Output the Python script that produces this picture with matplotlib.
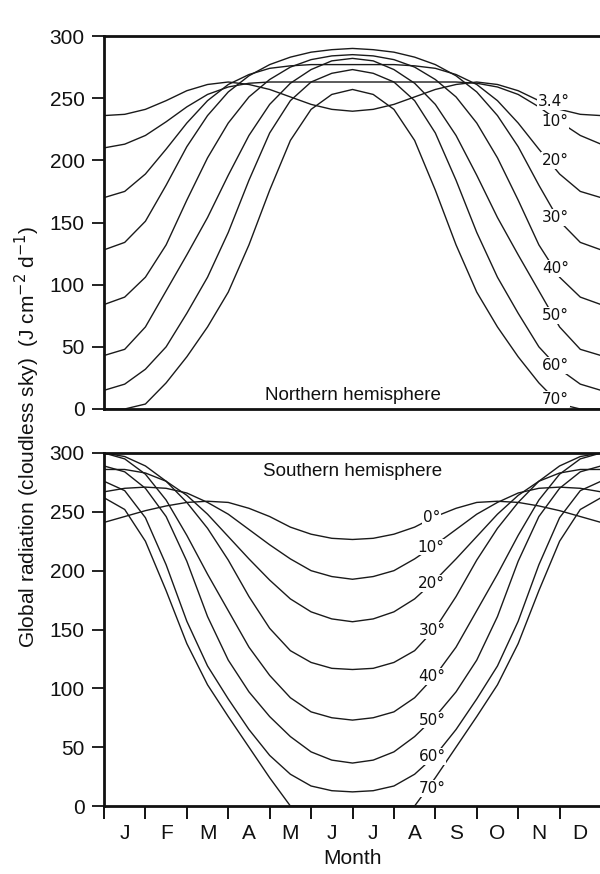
import numpy as np
import matplotlib
matplotlib.use("Agg")
import matplotlib.pyplot as plt

# x positions: half-month steps from Jan 1 (0) to Dec 31 (12)
months = ["J", "F", "M", "A", "M", "J", "J", "A", "S", "O", "N", "D"]
t = [i * 0.5 for i in range(25)]

# Northern hemisphere (J cm-2 d-1)
north_labels = ["3.4°", "10°", "20°", "30°", "40°", "50°", "60°", "70°"]
n_3_4 = [236,237,241,248,256,261,263,261,257,251,245,241,239.5,241,245,251,257,261,263,261,256,248,241,237,236]
n_10 = [210,213,220,231,243,253,259,262,263,263,263,263,263,263,263,263,263,263,262,259,253,243,231,220,213]
n_20 = [170,175,189,209,230,248,261,269,274,276,277,277,277,277,277,276,274,269,261,248,230,209,189,175,170]
n_30 = [128,134,151,180,211,236,255,268,277,283,287,289,290,289,287,283,277,268,255,236,211,180,151,134,128]
n_40 = [84,90,106,132,168,202,230,251,265,275,281,284,285,284,281,275,265,251,230,202,168,132,106,90,84]
n_50 = [43,48,66,95,124,154,188,220,245,262,273,280,282,280,273,262,245,220,188,154,124,95,66,48,43]
n_60 = [15,20,32,50,77,106,142,184,222,248,263,270,273,270,263,248,222,184,142,106,77,50,32,20,15]
n_70 = [0,0,4,21,42,66,94,132,176,216,241,253,257,253,241,216,176,132,94,66,42,21,4,0,0]
north = [n_3_4, n_10, n_20, n_30, n_40, n_50, n_60, n_70]
# label anchor (month position, value)
north_lab_x = [10.85, 10.88, 10.9, 10.9, 10.9, 10.9, 10.9, 10.9]
north_lab_y = [247, 231, 200, 154, 113, 75, 35, 8]

# Southern hemisphere
south_labels = ["0°", "10°", "20°", "30°", "40°", "50°", "60°", "70°"]
s_0 = [241,246,251,255,258,259,258,253,246,237,231,227.5,226.5,227.5,231,237,246,253,258,259,258,255,251,246,241]
s_10 = [267,270,271,270,266,258,248,235,222,210,200,195,192.7,195,200,210,222,235,248,258,266,270,271,270,267]
s_20 = [286,286,283,276,264,248,229,210,192,176,165,159,156.6,159,165,176,192,210,229,248,264,276,283,286,286]
s_30 = [300,297,289,276,258,236,209,178,151,132,122,117,116,117,122,132,151,178,209,236,258,276,289,297,300]
s_40 = [300,295,282,260,230,197,166,135,111,92,80,75,73,75,80,92,111,135,166,197,230,260,282,295,300]
s_50 = [289,284,270,246,208,161,124,97,76,59,46,39,36.5,39,46,59,76,97,124,161,208,246,270,284,289]
s_60 = [276,268,245,205,157,119,91,65,43,27,17,13,12,13,17,27,43,65,91,119,157,205,245,268,276]
s_70 = [262,252,225,183,138,103,76,50,24,0,0,0,0,0,0,0,24,50,76,103,138,183,225,252,262]
south = [s_0, s_10, s_20, s_30, s_40, s_50, s_60, s_70]
south_lab_x = [7.9, 7.9, 7.9, 7.92, 7.92, 7.92, 7.92, 7.92]
south_lab_y = [245, 220, 189, 149, 110, 73, 42, 15]

W, H = 600, 874
fig = plt.figure(figsize=(W / 100, H / 100), dpi=100)
plt.rcParams['font.family'] = ['Liberation Sans', 'DejaVu Sans']

x0, x1 = 104, 601
ax_n = fig.add_axes([x0 / W, 1 - 409 / H, (x1 - x0) / W, (409 - 36) / H])
ax_s = fig.add_axes([x0 / W, 1 - 806 / H, (x1 - x0) / W, (806 - 453) / H])

lab_font = dict(family=['Liberation Sans Narrow', 'DejaVu Sans'], fontsize=11)

for ax, series, labs, lx, ly in [(ax_n, north, north_labels, north_lab_x, north_lab_y),
                                  (ax_s, south, south_labels, south_lab_x, south_lab_y)]:
    for vals in series:
        ax.plot(t, vals, color='#1a1a1a', lw=1.0, solid_capstyle='round', clip_on=True)
    for s, xx, yy in zip(labs, lx, ly):
        ax.text(xx, yy, s, ha='center', va='center', color='#111111',
                bbox=dict(boxstyle='square,pad=0.05', fc='white', ec='none'), **lab_font)
    ax.set_xlim(0, 12)
    ax.set_ylim(0, 300)
    ax.set_yticks([0, 50, 100, 150, 200, 250, 300])
    ax.tick_params(axis='y', direction='out', length=9, width=1.3, labelsize=15, pad=5, colors='#111111')
    ax.spines['right'].set_visible(False)
    for sp in ['left', 'top', 'bottom']:
        ax.spines[sp].set_linewidth(2.0)
        ax.spines[sp].set_color('#111111')

ax_n.set_xticks([])
ax_n.text(6, 11, "Northern hemisphere", ha='center', va='center', fontsize=13.5, color='#111111')
ax_s.text(6, 284, "Southern hemisphere", ha='center', va='center', fontsize=13.5, color='#111111')

ax_s.set_xticks(range(13))
ax_s.set_xticklabels([])
ax_s.set_xticks([i + 0.5 for i in range(12)], minor=True)
ax_s.set_xticklabels(months, minor=True)
ax_s.tick_params(axis='x', which='major', direction='out', length=9, width=1.3)
ax_s.tick_params(axis='x', which='minor', length=0, labelsize=15, pad=13, colors='#111111')
ax_s.set_xlabel("Month", fontsize=15, labelpad=4, color='#111111')

fig.text(27 / W, 1 - 437 / H, "Global radiation (cloudless sky)  (J cm$^{-2}$ d$^{-1}$)",
         rotation=90, ha='center', va='center', fontsize=15, color='#111111')

fig.savefig("out.png", dpi=100, facecolor='white')
